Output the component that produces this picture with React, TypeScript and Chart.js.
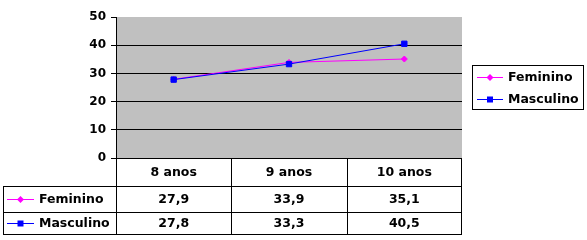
import React, { useEffect, useRef } from 'react';
import { Chart, registerables } from 'chart.js';
Chart.register(...registerables);

const categories = ['8 anos', '9 anos', '10 anos'];
const seriesNames = ['Feminino', 'Masculino'];
const feminino = [27.9, 33.9, 35.1];
const masculino = [27.8, 33.3, 40.5];
const yMin = 0;
const yMax = 50;
const yStep = 10;

const FONT = '"DejaVu Sans", "Liberation Sans", Arial, sans-serif';
const colors = ['#FF00FF', '#0000FF'];
const styles = ['diamond', 'square'];

function drawMarker(ctx: CanvasRenderingContext2D, kind: string, x: number, y: number, color: string) {
  ctx.save();
  ctx.fillStyle = color;
  ctx.beginPath();
  if (kind === 'diamond') {
    const r = 3.5;
    ctx.moveTo(x, y - r);
    ctx.lineTo(x + r, y);
    ctx.lineTo(x, y + r);
    ctx.lineTo(x - r, y);
    ctx.closePath();
  } else {
    ctx.rect(x - 3, y - 3, 6, 6);
  }
  ctx.fill();
  ctx.restore();
}

function drawKey(ctx: CanvasRenderingContext2D, i: number, x1: number, x2: number, y: number) {
  ctx.save();
  ctx.strokeStyle = colors[i];
  ctx.lineWidth = 1;
  ctx.beginPath();
  ctx.moveTo(x1, Math.round(y) + 0.5);
  ctx.lineTo(x2, Math.round(y) + 0.5);
  ctx.stroke();
  ctx.restore();
  drawMarker(ctx, styles[i], (x1 + x2) / 2, Math.round(y) + 0.5, colors[i]);
}

const fmt = (v: number) => v.toFixed(1).replace('.', ',');

const bgPlugin = {
  id: 'plotBg',
  beforeDraw(chart: any) {
    const { ctx, chartArea } = chart;
    ctx.save();
    ctx.fillStyle = '#FFFFFF';
    ctx.fillRect(0, 0, chart.width, chart.height);
    ctx.fillStyle = '#C0C0C0';
    ctx.fillRect(chartArea.left, chartArea.top, chartArea.right - chartArea.left, chartArea.bottom - chartArea.top);
    ctx.restore();
  },
};

const tablePlugin = {
  id: 'dataTable',
  afterDraw(chart: any) {
    const { ctx, chartArea } = chart;
    const xs = chart.scales.x;
    const left = chartArea.left;
    const right = chartArea.right;
    const top = chartArea.bottom;
    const tableLeft = 3;
    const rowBottoms = [186, 212, 234];
    const centers = categories.map((_, i) => xs.getPixelForValue(i));
    const bounds: number[] = [];
    for (let i = 0; i < centers.length - 1; i++) bounds.push((centers[i] + centers[i + 1]) / 2);

    ctx.save();
    ctx.strokeStyle = '#000000';
    ctx.lineWidth = 1;
    ctx.beginPath();
    ctx.moveTo(left, top + 0.5);
    ctx.lineTo(right, top + 0.5);
    rowBottoms.forEach((y) => {
      ctx.moveTo(tableLeft, y + 0.5);
      ctx.lineTo(right, y + 0.5);
    });
    ctx.moveTo(tableLeft + 0.5, rowBottoms[0]);
    ctx.lineTo(tableLeft + 0.5, rowBottoms[2] + 1);
    [left, ...bounds, right - 1].forEach((x) => {
      const px = Math.round(x) + 0.5;
      ctx.moveTo(px, top);
      ctx.lineTo(px, rowBottoms[2] + 1);
    });
    ctx.stroke();

    ctx.fillStyle = '#000000';
    ctx.font = `bold 12.5px ${FONT}`;
    ctx.textAlign = 'center';
    ctx.textBaseline = 'middle';
    const headerY = (top + rowBottoms[0]) / 2 + 1;
    categories.forEach((c, i) => ctx.fillText(c, centers[i], headerY));
    const rows = [feminino, masculino];
    const rowYs = [(rowBottoms[0] + rowBottoms[1]) / 2 + 1, (rowBottoms[1] + rowBottoms[2]) / 2 + 1];
    rows.forEach((vals, r) => {
      ctx.fillStyle = '#000000';
      ctx.textAlign = 'center';
      vals.forEach((v, i) => ctx.fillText(fmt(v), centers[i], rowYs[r]));
      drawKey(ctx, r, 7, 34, rowYs[r] - 1);
      ctx.fillStyle = '#000000';
      ctx.textAlign = 'left';
      ctx.fillText(seriesNames[r], 39, rowYs[r]);
    });

    const lx = 472, ly = 65, lw = 111, lh = 44;
    ctx.fillStyle = '#FFFFFF';
    ctx.fillRect(lx, ly, lw, lh);
    ctx.strokeStyle = '#000000';
    ctx.strokeRect(lx + 0.5, ly + 0.5, lw, lh);
    const legYs = [77, 99];
    seriesNames.forEach((n, i) => {
      drawKey(ctx, i, 477, 503, legYs[i]);
      ctx.fillStyle = '#000000';
      ctx.textAlign = 'left';
      ctx.textBaseline = 'middle';
      ctx.fillText(n, 508, legYs[i] + 1);
    });
    ctx.restore();
  },
};

export default function App() {
  const ref = useRef<HTMLCanvasElement | null>(null);
  useEffect(() => {
    if (!ref.current) return;
    const chart = new Chart(ref.current, {
      type: 'line',
      data: {
        labels: categories,
        datasets: [
          {
            label: seriesNames[0],
            data: feminino,
            borderColor: colors[0],
            backgroundColor: colors[0],
            borderWidth: 1,
            pointStyle: 'rectRot',
            pointRadius: 3,
            pointBorderWidth: 1,
            tension: 0,
            order: 1,
          },
          {
            label: seriesNames[1],
            data: masculino,
            borderColor: colors[1],
            backgroundColor: colors[1],
            borderWidth: 1,
            pointStyle: 'rect',
            pointRadius: 3.8,
            pointBorderWidth: 1,
            tension: 0,
            order: 0,
          },
        ],
      },
      options: {
        responsive: false,
        animation: false,
        layout: { padding: { left: 0, top: 17, right: 125, bottom: 82 } },
        plugins: { legend: { display: false }, tooltip: { enabled: false } },
        scales: {
          x: { type: 'category', offset: true, display: false },
          y: {
            min: yMin,
            max: yMax,
            afterFit: (scale: any) => { scale.width = 116; },
            ticks: {
              stepSize: yStep,
              color: '#000000',
              padding: 5,
              font: { family: FONT, size: 12, weight: 'bold' },
            },
            grid: {
              color: (c: any) => (c.tick && (c.tick.value === yMax || c.tick.value === yMin) ? 'rgba(0,0,0,0)' : '#000000'),
              tickColor: '#000000',
              tickLength: 5,
              lineWidth: 1,
            },
            border: { display: true, color: '#000000', width: 1 },
          },
        },
      },
      plugins: [bgPlugin, tablePlugin],
    } as any);
    return () => chart.destroy();
  }, []);
  return (
    <div style={{ position: 'absolute', left: 0, top: 0, width: 587, height: 240, background: '#fff' }}>
      <canvas ref={ref} width={587} height={240} style={{ display: 'block', width: 587, height: 240 }} />
    </div>
  );
}
